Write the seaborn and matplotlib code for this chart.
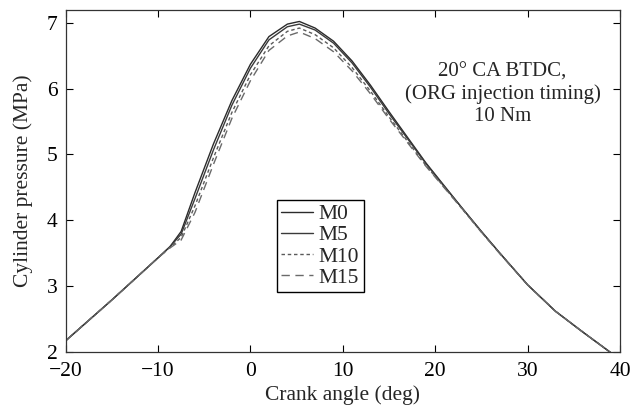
import numpy as np
import pandas as pd
import matplotlib
matplotlib.use("Agg")
import matplotlib.pyplot as plt
import seaborn as sns

# ---- data ----
crank_angle = [-20, -15, -10, -8.7, -7.5, -6, -4, -2, 0, 2, 4, 5.3, 7, 9, 11, 13, 15,
               17, 19, 21, 23, 25, 27, 30, 33, 36, 39]
p_M0 = [2.17, 2.79, 3.43, 3.60, 3.83, 4.42, 5.16, 5.82, 6.37, 6.79, 6.98, 7.02, 6.92, 6.72,
        6.42, 6.05, 5.65, 5.26, 4.87, 4.52, 4.17, 3.83, 3.50, 3.02, 2.62, 2.30, 1.99]
p_M5 = [2.17, 2.79, 3.43, 3.60, 3.79, 4.33, 5.07, 5.75, 6.31, 6.74, 6.94, 6.98, 6.89, 6.69,
        6.39, 6.02, 5.62, 5.24, 4.86, 4.51, 4.17, 3.83, 3.50, 3.02, 2.62, 2.30, 1.99]
p_M10 = [2.17, 2.79, 3.43, 3.59, 3.74, 4.22, 4.95, 5.64, 6.21, 6.65, 6.87, 6.92, 6.82, 6.62,
         6.32, 5.96, 5.57, 5.20, 4.83, 4.50, 4.16, 3.82, 3.50, 3.02, 2.62, 2.30, 1.99]
p_M15 = [2.17, 2.79, 3.43, 3.58, 3.70, 4.12, 4.85, 5.55, 6.12, 6.58, 6.80, 6.86, 6.76, 6.56,
         6.27, 5.92, 5.54, 5.18, 4.82, 4.49, 4.16, 3.82, 3.49, 3.02, 2.62, 2.30, 1.99]
series_names = ["M0", "M5", "M10", "M15"]
x_ticks = [-20, -10, 0, 10, 20, 30, 40]
y_ticks = [2, 3, 4, 5, 6, 7]
annotation = "20° CA BTDC,\n(ORG injection timing)\n10 Nm"

df = pd.concat([
    pd.DataFrame({"angle": crank_angle, "pressure": vals, "fuel": name})
    for name, vals in zip(series_names, [p_M0, p_M5, p_M10, p_M15])
])

sns.set_theme(style="ticks")
plt.rcParams["font.family"] = ["Liberation Serif", "DejaVu Serif"]
plt.rcParams["axes.unicode_minus"] = True

fig = plt.figure(figsize=(6.31, 4.11), dpi=100)
ax = fig.add_axes([0.104, 0.1436, 0.8786, 0.8314])

palette = {"M0": "#2b2b2b", "M5": "#3a3a3a", "M10": "#5a5a5a", "M15": "#6a6a6a"}
dashes = {"M0": "", "M5": "", "M10": (2.5, 2), "M15": (6, 4)}
sns.lineplot(data=df, x="angle", y="pressure", hue="fuel", style="fuel",
             palette=palette, dashes=dashes, linewidth=1.0, ax=ax,
             hue_order=series_names, style_order=series_names, sort=False)

ax.set_xlim(-20, 40)
ax.set_ylim(2, 7.19)
ax.set_xticks(x_ticks)
ax.set_yticks(y_ticks)
ax.tick_params(direction="in", top=True, right=True, length=5, width=0.8,
               labelsize=15.5, colors="black")
ax.tick_params(axis="x", pad=7.5)
ax.tick_params(axis="y", pad=6)
for s in ax.spines.values():
    s.set_linewidth(0.9)
    s.set_color("#333333")
ax.set_xlabel("Crank angle (deg)", fontsize=15.5, labelpad=3)
ax.set_ylabel("Cylinder pressure (MPa)", fontsize=15.5, labelpad=10)

ax.text(27.3, 5.92, annotation, ha="center", va="center", multialignment="center",
        fontsize=15, linespacing=1.2)

leg = ax.legend(loc="upper left", bbox_to_anchor=(0.381, 0.445), fontsize=15.5,
                frameon=True, fancybox=False, framealpha=1, edgecolor="black",
                handlelength=1.5, handletextpad=0.25, labelspacing=0.05,
                borderpad=0.2, borderaxespad=0)
leg.get_frame().set_linewidth(1.0)

fig.savefig("out.png", dpi=100)
